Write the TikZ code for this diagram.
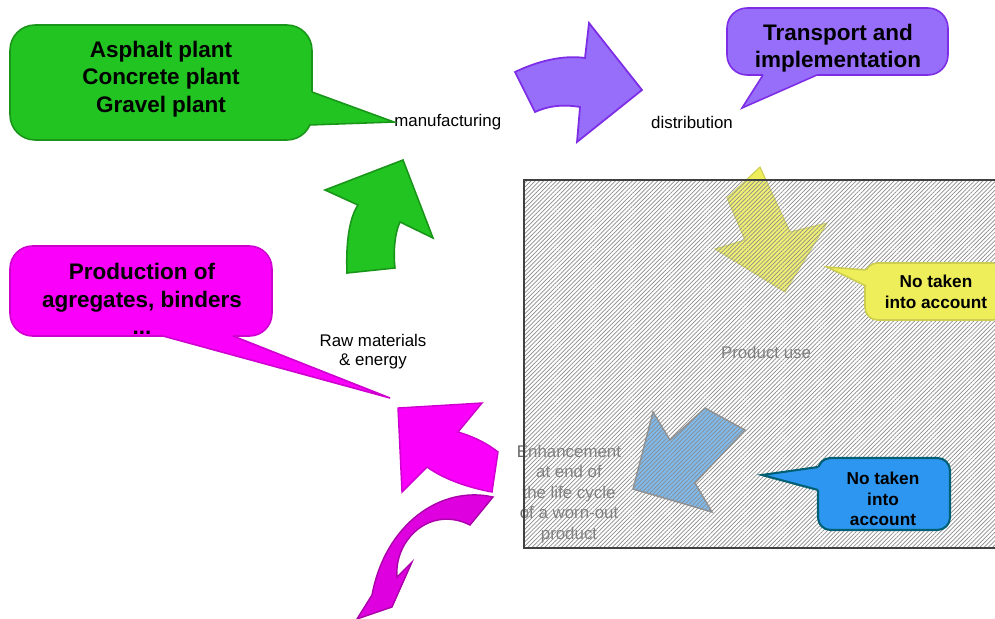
\documentclass[tikz,border=0pt]{standalone}
\usepackage{fontspec}
\setmainfont{Liberation Sans}
\usepackage{tikz}
\usetikzlibrary{patterns.meta}

\definecolor{grnfill}{RGB}{34,196,34}
\definecolor{grnline}{RGB}{25,150,25}
\definecolor{purfill}{RGB}{150,110,250}
\definecolor{purline}{RGB}{125,45,230}
\definecolor{magfill}{RGB}{250,0,250}
\definecolor{magline}{RGB}{205,0,205}
\definecolor{dmagfill}{RGB}{222,0,222}
\definecolor{dmagline}{RGB}{170,0,170}
\definecolor{yelfill}{RGB}{238,238,90}
\definecolor{yelline}{RGB}{205,205,80}
\definecolor{bluarrow}{RGB}{105,175,235}
\definecolor{blufill}{RGB}{45,150,240}
\definecolor{bluline}{RGB}{0,95,115}

\tikzset{
  bubble/.style={rounded corners=#1, line width=0.9pt},
  bigtext/.style={font=\fontsize{12.8}{15.5}\selectfont\bfseries, align=center, inner sep=0pt},
  smalltext/.style={font=\fontsize{9.8}{11.8}\selectfont\bfseries, align=center, inner sep=0pt},
  plaintext/.style={font=\fontsize{9.6}{10.8}\selectfont, align=center, inner sep=0pt},
}

\begin{document}
\begin{tikzpicture}[x=0.02cm, y=-0.02cm]
\useasboundingbox (0,0) rectangle (995,619);

\node[bubble=0.5cm, fill=grnfill, draw=grnline, minimum width=6.04cm, minimum height=2.3cm] (plantbox) at (161,82.5) {};
\node[plaintext, anchor=west] (manuf) at (394,122) {manufacturing};
\fill[grnfill] (300,92) -- (312,92) -- (manuf.west) -- (309,125) -- (300,125) -- cycle;
\draw[grnline, line width=0.9pt] (312,92) -- (manuf.west) -- (309,125);
\node[bigtext] (plants) at (161,79) {Asphalt plant\\Concrete plant\\Gravel plant};

\node[bubble=0.4cm, fill=purfill, draw=purline, minimum width=4.42cm, minimum height=1.34cm] (transbox) at (837.5,41.5) {};
\node[plaintext] (distr) at (692,122) {distribution};
\coordinate (transtip) at (742,108);
\fill[purfill] (763,70) -- (763,75) -- (transtip) -- (817,75) -- (817,70) -- cycle;
\draw[purline, line width=0.9pt] (763,75) -- (transtip) -- (817,75);
\node[bigtext] (transport) at (838,48) {Transport and\\implementation};

\node[bubble=0.45cm, fill=magfill, draw=magline, minimum width=5.24cm, minimum height=1.8cm] (prodbox) at (141,291) {};
\coordinate (prodtip) at (390,398);
\fill[magfill] (163,330) -- (163,336) -- (prodtip) -- (233,336) -- (233,330) -- cycle;
\draw[magline, line width=0.9pt] (163,336) -- (prodtip) -- (233,336);
\node[bigtext] (production) at (142,299) {Production of\\agregates, binders\\...};

\node[plaintext] (raw) at (373,352) {Raw materials\\\& energy};

\draw[grnline, fill=grnfill, line width=0.9pt] (403,160) -- (433,238) -- (400,222) .. controls (395,232) and (393,252) .. (395,268) -- (347,273) .. controls (346,248) and (348,220) .. (358,205) -- (325,190) -- cycle;
\draw[purline, fill=purfill, line width=1pt] (515,72) .. controls (540,60) and (565,55) .. (585,58) -- (589,23) -- (642,90) -- (577,142) -- (580,107) .. controls (562,104) and (548,106) .. (535,112) -- cycle;
\draw[magline, fill=magfill, line width=0.8pt] (398,408) -- (482,403) -- (458,432) .. controls (475,437) and (488,444) .. (498,452) -- (492,492) .. controls (470,488) and (445,480) .. (427,467) -- (402,492) -- cycle;
\draw[dmagline, fill=dmagfill, line width=0.8pt] (493,497) -- (470,525) .. controls (430,505) and (394,540) .. (397,577) -- (412,562) -- (392,607) -- (357,619) -- (372,595) .. controls (385,525) and (440,485) .. (493,497) -- cycle;
\draw[yelline, fill=yelfill, line width=0.6pt] (760,167) -- (790,232) -- (827,223) -- (785,292) -- (715,249) -- (745,240) -- (727,198) -- cycle;
\draw[gray, fill=bluarrow, line width=0.8pt] (653,412) -- (670,440) -- (705,408) -- (745,430) -- (695,483) -- (712,512) -- (633,489) -- cycle;

\node[plaintext, text=black!60] (use) at (766,352) {Product use};
\node[plaintext, text=black!60, font=\fontsize{9.6}{11.6}\selectfont] (endlife) at (569,494) {Enhancement\\at end of\\the life cycle\\of a worn-out\\product};

\fill[white, opacity=0.15] (524,180) rectangle (1000,548);
\fill[pattern={Lines[angle=45, distance=1.7pt, line width=0.4pt]}, pattern color=black!45] (524,180) rectangle (1000,548);
\draw[black!75, line width=0.6pt] (1000,180) -- (524,180) -- (524,548) -- (1000,548);

\node[bubble=0.25cm, fill=yelfill, draw=yelline, minimum width=2.8cm, minimum height=1.14cm] (yelbox) at (935,291.5) {};
\coordinate (yeltip) at (827,267);
\fill[yelfill] (872,270) -- (866,270) -- (yeltip) -- (866,286) -- (872,286) -- cycle;
\draw[yelline, line width=0.9pt] (866,270) -- (yeltip) -- (866,286);
\node[smalltext] (yelnote) at (936,292) {No taken\\into account};

\node[bubble=0.25cm, fill=blufill, draw=bluline, line width=1.2pt, minimum width=2.64cm, minimum height=1.44cm] (blubox) at (884,494) {};
\coordinate (blutip) at (762,475);
\fill[blufill] (824,467) -- (818,467) -- (blutip) -- (818,490) -- (824,490) -- cycle;
\draw[bluline, line width=1.2pt] (818,467) -- (blutip) -- (818,490);
\node[smalltext] (blunote) at (883,499) {No taken\\into\\account};
\end{tikzpicture}
\end{document}
